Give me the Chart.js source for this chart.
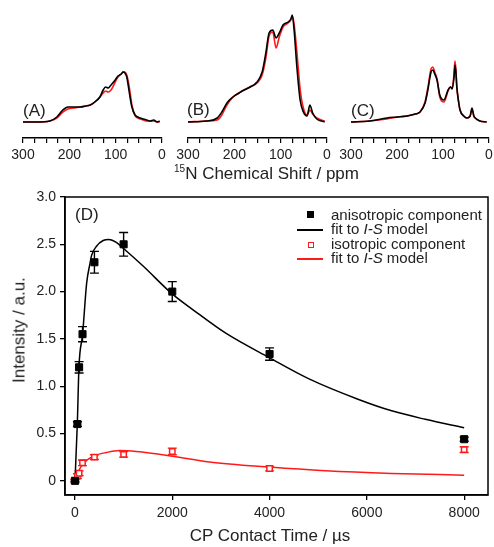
<!DOCTYPE html>
<html>
<head>
<meta charset="utf-8">
<script src="https://cdn.jsdelivr.net/npm/chart.js@4.4.0/dist/chart.umd.min.js"></script>
<style>
body { margin: 0; background: #fff; font-family: "Liberation Sans", Arial, sans-serif; color: #222; }
#wrap { position: relative; width: 494px; height: 547px; overflow: hidden; }
canvas { position: absolute; }
.lbl { position: absolute; white-space: nowrap; line-height: 1; }
.lbl sup { font-size: 10px; vertical-align: 7px; line-height: 0; }
.mk { position: absolute; box-sizing: border-box; }
</style>
</head>
<body>
<div id="wrap">
  <canvas id="specA" width="180" height="170" style="left:3px;top:0"></canvas>
  <canvas id="specB" width="180" height="170" style="left:168px;top:0"></canvas>
  <canvas id="specC" width="163" height="170" style="left:331px;top:0"></canvas>
  <canvas id="cpChart" width="494" height="367" style="left:0;top:180px"></canvas>

  <div class="lbl" style="left:23px;top:102px;font-size:17px">(A)</div>
  <div class="lbl" style="left:187px;top:101px;font-size:17px">(B)</div>
  <div class="lbl" style="left:351px;top:102px;font-size:17px">(C)</div>
  <div class="lbl" style="left:174px;top:165px;font-size:17px"><sup>15</sup>N Chemical Shift / ppm</div>

  <div class="lbl" style="left:75px;top:206px;font-size:17px">(D)</div>

  <!-- legend -->
  <div class="mk" style="left:307px;top:211px;width:7px;height:7px;background:#000"></div>
  <div class="lbl" style="left:331px;top:207px;font-size:15px">anisotropic component</div>
  <div class="mk" style="left:297px;top:229px;width:26px;height:2px;background:#000"></div>
  <div class="lbl" style="left:331px;top:221px;font-size:15px">fit to <i>I-S</i> model</div>
  <div class="mk" style="left:307.5px;top:241.5px;width:6px;height:6px;border:1.5px solid #ff1a1a;background:#fff"></div>
  <div class="lbl" style="left:331px;top:236px;font-size:15px">isotropic component</div>
  <div class="mk" style="left:297px;top:258px;width:26px;height:2px;background:#ff1a1a"></div>
  <div class="lbl" style="left:331px;top:250px;font-size:15px">fit to <i>I-S</i> model</div>

  <div class="lbl" style="left:19px;top:330px;font-size:17px;transform:translate(-50%,-50%) rotate(-90deg)">Intensity / a.u.</div>
  <div class="lbl" style="left:270px;top:527px;font-size:17px;transform:translateX(-50%)">CP Contact Time / µs</div>
</div>

<script>
// spectra (A) (B) (C): 15N chemical shift in ppm, intensity in arbitrary units
const ppmTicks = [0, 25, 50, 75, 100, 125, 150, 175, 200, 225, 250, 275, 300];

const ppmA = [300, 270, 242, 227, 214, 203, 190, 177, 165, 155, 145, 134, 127, 122, 116, 110, 101, 95, 88, 84, 80, 76, 73, 69, 65, 58, 52, 47, 40, 33, 25, 18, 10, 5];
const blackA = [0, 0, 0.01, 0.05, 0.12, 0.15, 0.15, 0.15, 0.16, 0.17, 0.20, 0.25, 0.32, 0.35, 0.34, 0.37, 0.42, 0.46, 0.48, 0.50, 0.49, 0.45, 0.37, 0.25, 0.15, 0.07, 0.05, 0.04, 0.03, 0.02, 0.01, 0.02, 0, 0.01];
const redA = [0, 0, 0.01, 0.04, 0.10, 0.13, 0.14, 0.15, 0.16, 0.17, 0.20, 0.25, 0.29, 0.31, 0.30, 0.32, 0.40, 0.45, 0.48, 0.50, 0.50, 0.47, 0.41, 0.30, 0.17, 0.06, 0.04, 0.03, 0.02, 0.01, 0.01, 0.01, 0, 0];

const ppmB = [300, 260, 237, 227, 216, 203, 190, 183, 166, 151, 140, 132, 125, 117, 110, 103, 95, 84, 78, 75, 71, 65, 58, 51, 43, 37, 31, 22, 5];
const blackB = [0, 0.01, 0.04, 0.10, 0.19, 0.25, 0.29, 0.31, 0.35, 0.40, 0.50, 0.69, 0.89, 0.92, 0.84, 0.89, 0.97, 1.00, 1.03, 1.07, 0.92, 0.55, 0.22, 0.10, 0.06, 0.17, 0.09, 0.03, 0];
const redB = [0, 0.01, 0.02, 0.07, 0.17, 0.25, 0.29, 0.31, 0.35, 0.39, 0.47, 0.64, 0.86, 0.90, 0.74, 0.85, 0.95, 0.99, 1.02, 1.06, 0.98, 0.70, 0.33, 0.14, 0.07, 0.12, 0.08, 0.04, 0.01];

const ppmC = [300, 260, 222, 200, 178, 160, 150, 139, 133, 126, 122, 118, 113, 107, 98, 89, 84, 80, 76, 74, 72, 70, 66, 63, 55, 48, 41, 37, 33, 30, 20, 5];
const blackC = [0, 0.01, 0.04, 0.05, 0.06, 0.08, 0.10, 0.19, 0.32, 0.50, 0.52, 0.48, 0.42, 0.27, 0.22, 0.32, 0.35, 0.33, 0.45, 0.57, 0.50, 0.35, 0.20, 0.12, 0.06, 0.04, 0.06, 0.14, 0.06, 0.04, 0.01, 0];
const redC = [0, 0.01, 0.03, 0.05, 0.06, 0.08, 0.10, 0.20, 0.34, 0.53, 0.55, 0.50, 0.43, 0.25, 0.20, 0.31, 0.35, 0.34, 0.48, 0.61, 0.53, 0.36, 0.20, 0.12, 0.06, 0.04, 0.06, 0.13, 0.06, 0.04, 0.01, 0];

// (D) CP build-up
const cpTimes = [0, 50, 85, 155, 400, 1000, 2000, 4000, 8000];
const anisoValues = [0, 0.60, 1.20, 1.55, 2.31, 2.50, 2.00, 1.34, 0.44];
const anisoErrors = [0.01, 0.025, 0.06, 0.08, 0.115, 0.125, 0.105, 0.065, 0.022];
const isoValues = [0, 0.05, 0.08, 0.19, 0.25, 0.28, 0.31, 0.13, 0.33];
const isoErrors = [0.02, 0.025, 0.025, 0.03, 0.025, 0.03, 0.035, 0.025, 0.03];

const anisoFitTimes = [0, 48, 82, 157, 240, 310, 340, 443, 580, 700, 850, 1010, 1400, 2010, 2420, 3100, 4000, 4800, 5830, 6510, 7200, 8000];
const anisoFitValues = [0, 0.60, 1.20, 1.55, 2.09, 2.30, 2.38, 2.48, 2.54, 2.55, 2.52, 2.45, 2.27, 1.97, 1.81, 1.56, 1.30, 1.08, 0.86, 0.74, 0.65, 0.56];
const isoFitTimes = [0, 35, 100, 205, 375, 650, 920, 1260, 2010, 2760, 4000, 5150, 6510, 8000];
const isoFitValues = [0, 0.06, 0.13, 0.20, 0.26, 0.30, 0.32, 0.31, 0.26, 0.20, 0.145, 0.106, 0.078, 0.06];

const yTicks = [0, 0.5, 1.0, 1.5, 2.0, 2.5, 3.0];
const xTicks = [0, 2000, 4000, 6000, 8000];

const FONT = '"Liberation Sans", Arial, sans-serif';
const RED = '#ff1a1a';

function toPoints(xs, ys) {
    return xs.map((x, i) => ({ x: x, y: ys[i] }));
}

function makeSpectrum(id, ppm, black, red, padRight) {
    const ctx = document.getElementById(id).getContext('2d');
    return new Chart(ctx, {
        type: 'line',
        data: {
            datasets: [{
                data: toPoints(ppm, black),
                borderColor: '#000',
                borderWidth: 1.6,
                pointRadius: 0,
                cubicInterpolationMode: 'monotone'
            }, {
                data: toPoints(ppm, red),
                borderColor: RED,
                borderWidth: 1.6,
                pointRadius: 0,
                cubicInterpolationMode: 'monotone'
            }]
        },
        options: {
            responsive: false,
            animation: false,
            events: [],
            layout: { padding: { left: 20, right: padRight, top: 5, bottom: 0 } },
            plugins: { legend: { display: false }, tooltip: { enabled: false } },
            scales: {
                x: {
                    type: 'linear',
                    reverse: true,
                    min: 0,
                    max: 300,
                    afterBuildTicks: s => { s.ticks = ppmTicks.map(v => ({ value: v })); },
                    afterFit: s => { s.height = 32; },
                    grid: { drawOnChartArea: false, drawTicks: true, tickLength: 5, color: '#000', lineWidth: 1.2 },
                    border: { display: true, color: '#000', width: 1.5 },
                    ticks: {
                        autoSkip: false, maxRotation: 0, padding: 4, color: '#222',
                        font: { family: FONT, size: 14 },
                        callback: v => (v % 100 === 0 ? String(v) : '')
                    }
                },
                y: { display: false, min: -0.16, max: 1.17 }
            }
        }
    });
}

makeSpectrum('specA', ppmA, blackA, redA, 21);
makeSpectrum('specB', ppmB, blackB, redB, 21);
makeSpectrum('specC', ppmC, blackC, redC, 5);

const errorBars = {
    id: 'errorBars',
    beforeDatasetsDraw(chart) {
        const { ctx, scales: { x, y } } = chart;
        chart.data.datasets.forEach(ds => {
            if (!ds.errors) return;
            ctx.save();
            ctx.strokeStyle = ds.borderColor;
            ctx.lineWidth = 1.4;
            ds.data.forEach((p, j) => {
                const e = ds.errors[j];
                const px = x.getPixelForValue(p.x);
                const top = y.getPixelForValue(p.y + e);
                const bot = y.getPixelForValue(p.y - e);
                ctx.beginPath();
                ctx.moveTo(px, top); ctx.lineTo(px, bot);
                ctx.moveTo(px - 4.5, top); ctx.lineTo(px + 4.5, top);
                ctx.moveTo(px - 4.5, bot); ctx.lineTo(px + 4.5, bot);
                ctx.stroke();
            });
            ctx.restore();
        });
    }
};

const frame = {
    id: 'frame',
    afterDraw(chart) {
        const { ctx, chartArea: a } = chart;
        ctx.save();
        ctx.strokeStyle = '#000';
        ctx.lineWidth = 1.5;
        ctx.strokeRect(a.left, a.top, a.right - a.left, a.bottom - a.top);
        ctx.restore();
    }
};

const cpCtx = document.getElementById('cpChart').getContext('2d');
new Chart(cpCtx, {
    type: 'line',
    data: {
        datasets: [{
            label: 'anisotropic component',
            data: toPoints(cpTimes, anisoValues),
            errors: anisoErrors,
            showLine: false,
            pointStyle: 'rect',
            pointRadius: 5,
            backgroundColor: '#000',
            borderColor: '#000',
            order: 0
        }, {
            label: 'isotropic component',
            data: toPoints(cpTimes, isoValues),
            errors: isoErrors,
            showLine: false,
            pointStyle: 'rect',
            pointRadius: 3.8,
            pointBorderWidth: 1.5,
            backgroundColor: '#fff',
            borderColor: RED,
            order: 1
        }, {
            label: 'fit to I-S model',
            data: toPoints(anisoFitTimes, anisoFitValues),
            borderColor: '#000',
            borderWidth: 1.5,
            pointRadius: 0,
            cubicInterpolationMode: 'monotone',
            order: 2
        }, {
            label: 'fit to I-S model',
            data: toPoints(isoFitTimes, isoFitValues),
            borderColor: RED,
            borderWidth: 1.5,
            pointRadius: 0,
            cubicInterpolationMode: 'monotone',
            order: 3
        }]
    },
    options: {
        responsive: false,
        animation: false,
        events: [],
        layout: { padding: { left: 0, right: 4, top: 17, bottom: 0 } },
        plugins: { legend: { display: false }, tooltip: { enabled: false } },
        scales: {
            x: {
                type: 'linear',
                min: -205,
                max: 8490,
                afterBuildTicks: s => { s.ticks = xTicks.map(v => ({ value: v })); },
                afterFit: s => { s.height = 52; },
                grid: { drawOnChartArea: false, drawTicks: true, tickLength: 5, color: '#000', lineWidth: 1.3 },
                border: { display: true, color: '#000', width: 1.5 },
                ticks: {
                    autoSkip: false, maxRotation: 0, padding: 5, color: '#222',
                    font: { family: FONT, size: 14 },
                    callback: v => String(v)
                }
            },
            y: {
                min: -0.15,
                max: 3.0,
                afterBuildTicks: s => { s.ticks = yTicks.map(v => ({ value: v })); },
                afterFit: s => { s.width = 65; },
                grid: { drawOnChartArea: false, drawTicks: true, tickLength: 5, color: '#000', lineWidth: 1.3 },
                border: { display: true, color: '#000', width: 1.5 },
                ticks: {
                    padding: 4, color: '#222', font: { family: FONT, size: 14 },
                    callback: v => (v === 0 ? '0' : v.toFixed(1))
                }
            }
        }
    },
    plugins: [errorBars, frame]
});
</script>
</body>
</html>
